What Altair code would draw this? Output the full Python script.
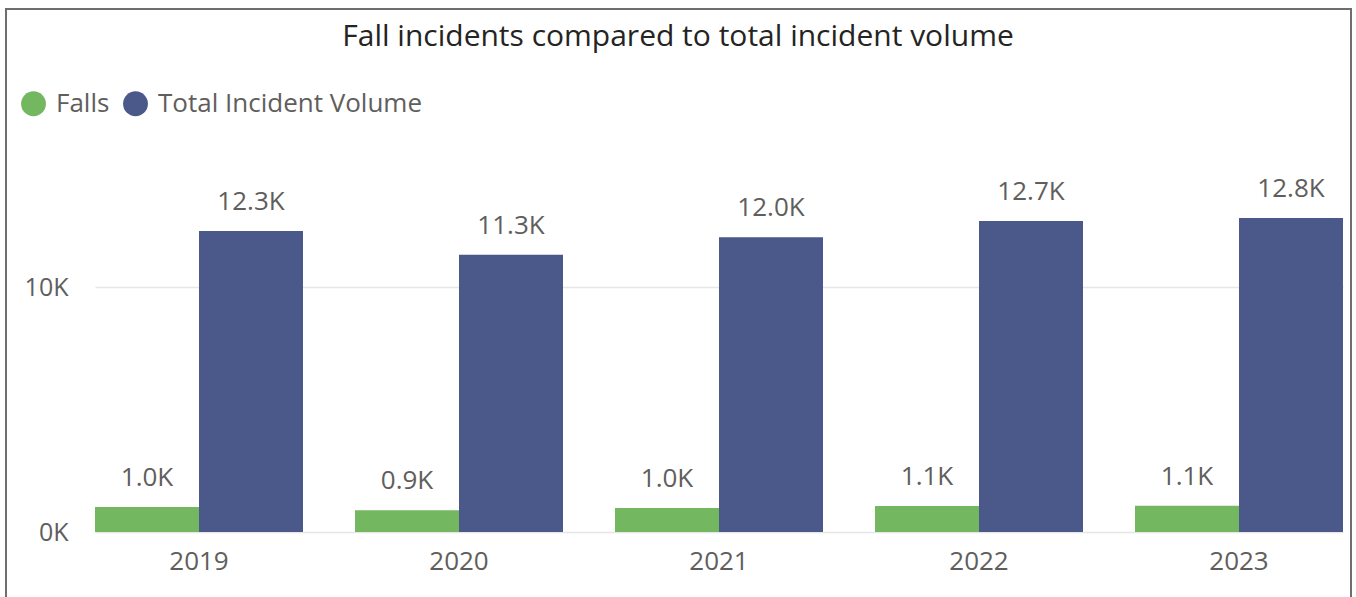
import altair as alt
import pandas as pd

years = ["2019", "2020", "2021", "2022", "2023"]
series_names = ["Falls", "Total Incident Volume"]
falls = [1020, 890, 980, 1060, 1070]
totals = [12290, 11320, 12030, 12690, 12820]
colors = ["#73B761", "#4A588A"]

rows = []
for i, yr in enumerate(years):
    rows.append({"year": yr, "series": series_names[0], "value": falls[i]})
    rows.append({"year": yr, "series": series_names[1], "value": totals[i]})
df = pd.DataFrame(rows)

FONT = "Open Sans"
GRAY = "#605E5C"

base = alt.Chart(df).encode(
    x=alt.X("year:N", sort=years, title=None,
            scale=alt.Scale(paddingInner=0.2, paddingOuter=0),
            axis=alt.Axis(labelAngle=0, labelFontSize=26, labelColor=GRAY, labelFont=FONT,
                          domain=False, ticks=False, labelPadding=16, grid=False)),
    xOffset=alt.XOffset("series:N", sort=series_names,
                        scale=alt.Scale(paddingInner=0, paddingOuter=0)),
)

bars = base.mark_bar().encode(
    y=alt.Y("value:Q", title=None, scale=alt.Scale(domain=[0, 14000], nice=False),
            axis=alt.Axis(values=[0, 10000], labelExpr="format(datum.value/1000,'d') + 'K'",
                          domain=False, ticks=False, labelPadding=27, labelFontSize=25,
                          labelColor=GRAY, labelFont=FONT, gridColor="#E6E6E6", gridWidth=1.5)),
    color=alt.Color("series:N", sort=series_names,
                    scale=alt.Scale(domain=series_names, range=colors),
                    legend=alt.Legend(title=None, orient="none", legendX=-75, legendY=-99,
                                      direction="horizontal", symbolType="circle", symbolSize=620,
                                      symbolOpacity=1, labelFontSize=26, labelFont=FONT,
                                      labelColor=GRAY, labelOffset=9, columnPadding=12,
                                      labelLimit=0)),
)

labels = base.mark_text(baseline="alphabetic", dy=-21, fontSize=26, font=FONT, color=GRAY).encode(
    y="value:Q", text="label:N"
).transform_calculate(label="format(datum.value/1000,'.1f') + 'K'")

border = alt.Chart(pd.DataFrame({"d": [0]})).mark_rect(
    fill="transparent", stroke="#6E6E6E", strokeWidth=2
).encode(x=alt.value(-89), x2=alt.value(1256), y=alt.value(-180), y2=alt.value(430))

chart = alt.layer(border, bars, labels).properties(
    width=1248, height=343,
    title=alt.TitleParams("Fall incidents compared to total incident volume", font=FONT,
                          fontSize=30, fontWeight="normal", color="#252423",
                          anchor="middle", dx=-41, offset=-44),
    autosize=alt.AutoSizeParams(type="none"),
    padding={"left": 95, "top": 189, "right": 13, "bottom": 65},
    background="white",
).configure_view(strokeWidth=0)

chart.save("out.html", embed_options={"renderer": "svg", "actions": False})
